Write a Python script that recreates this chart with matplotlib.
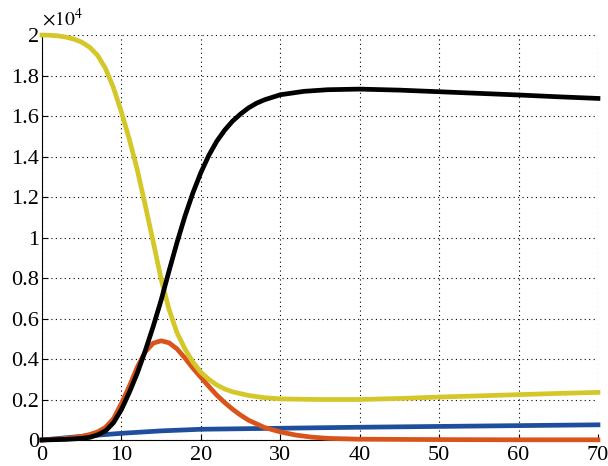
import matplotlib
matplotlib.use("Agg")
import matplotlib.pyplot as plt

plt.rcParams["font.family"] = ["Liberation Serif", "DejaVu Serif"]
plt.rcParams["mathtext.fontset"] = "stix"

# Values (units of 10^4)
t_s = [0, 1, 2, 3, 4, 5, 6, 7, 8, 9, 10, 11, 12, 13, 14, 15, 16, 17, 18,
       19, 20, 21, 22, 23, 24, 26, 28, 30, 35, 40, 45, 50, 55, 60, 65, 70]
s = [2.0, 1.999, 1.996, 1.99, 1.98, 1.965, 1.94, 1.9, 1.835, 1.74, 1.62,
     1.485, 1.335, 1.16, 0.98, 0.795, 0.645, 0.53, 0.45, 0.385, 0.335,
     0.3, 0.272, 0.252, 0.238, 0.22, 0.209, 0.203, 0.2, 0.2, 0.205,
     0.212, 0.218, 0.224, 0.23, 0.235]

t_r = [0, 3, 5, 6, 7, 8, 9, 10, 11, 12, 13, 14, 15, 16, 17, 18, 19, 20, 21,
       22, 23, 24, 25, 26, 27, 28, 30, 33, 36, 40, 45, 50, 55, 60, 65, 70]
r = [0, 0.003, 0.008, 0.013, 0.025, 0.045, 0.085, 0.15, 0.235, 0.33, 0.44,
     0.56, 0.69, 0.835, 0.975, 1.105, 1.22, 1.32, 1.405, 1.475, 1.53,
     1.575, 1.61, 1.64, 1.663, 1.68, 1.705, 1.722, 1.73, 1.733, 1.728,
     1.72, 1.712, 1.704, 1.695, 1.687]

t_i = [0, 2, 4, 5, 6, 7, 8, 9, 10, 11, 12, 13, 14, 15, 16, 17, 18, 19, 20,
       21, 22, 23, 24, 25, 26, 28, 30, 32, 34, 36, 40, 50, 60, 70]
i = [0, 0.004, 0.012, 0.018, 0.027, 0.04, 0.062, 0.105, 0.18, 0.265,
     0.36, 0.435, 0.478, 0.49, 0.48, 0.45, 0.405, 0.355, 0.31, 0.265,
     0.222, 0.185, 0.152, 0.123, 0.098, 0.062, 0.04, 0.024, 0.014, 0.008,
     0.004, 0.002, 0.001, 0.001]

t_d = [0, 5, 10, 15, 20, 30, 40, 50, 60, 70]
d = [0, 0.018, 0.033, 0.045, 0.053, 0.058, 0.063, 0.067, 0.071, 0.075]

x_ticks = [0, 10, 20, 30, 40, 50, 60, 70]
y_ticks = [0, 0.2, 0.4, 0.6, 0.8, 1, 1.2, 1.4, 1.6, 1.8, 2]
y_labels = ["0", "0.2", "0.4", "0.6", "0.8", "1", "1.2", "1.4", "1.6", "1.8", "2"]

fig = plt.figure(figsize=(6.08, 4.66), dpi=100)
ax = fig.add_axes([0.069, 0.0558, 0.9145, 0.869])

ax.plot(t_d, d, color="#1f4e9c", lw=3.4, clip_on=False, zorder=3)
ax.plot(t_i, i, color="#d9541a", lw=3.4, clip_on=False, zorder=4)
ax.plot(t_s, s, color="#d4c72a", lw=3.4, clip_on=False, zorder=5)
ax.plot(t_r, r, color="black", lw=3.4, clip_on=False, zorder=6)

ax.set_xlim(0, 70)
ax.set_ylim(0, 2)
ax.set_xticks(x_ticks)
ax.set_yticks(y_ticks)
ax.set_yticklabels(y_labels)
ax.tick_params(direction="in", length=4, labelsize=16)
ax.tick_params(axis="y", pad=2)
ax.tick_params(axis="x", pad=4)

ax.grid(True, color="black", linestyle=(0, (1, 3)), linewidth=0.8)
ax.spines["top"].set_visible(False)
ax.spines["right"].set_visible(False)

fig.text(0.069, 0.946, r"$\times10^4$", fontsize=14, ha="left", va="baseline")

fig.savefig("out.png", dpi=100)
